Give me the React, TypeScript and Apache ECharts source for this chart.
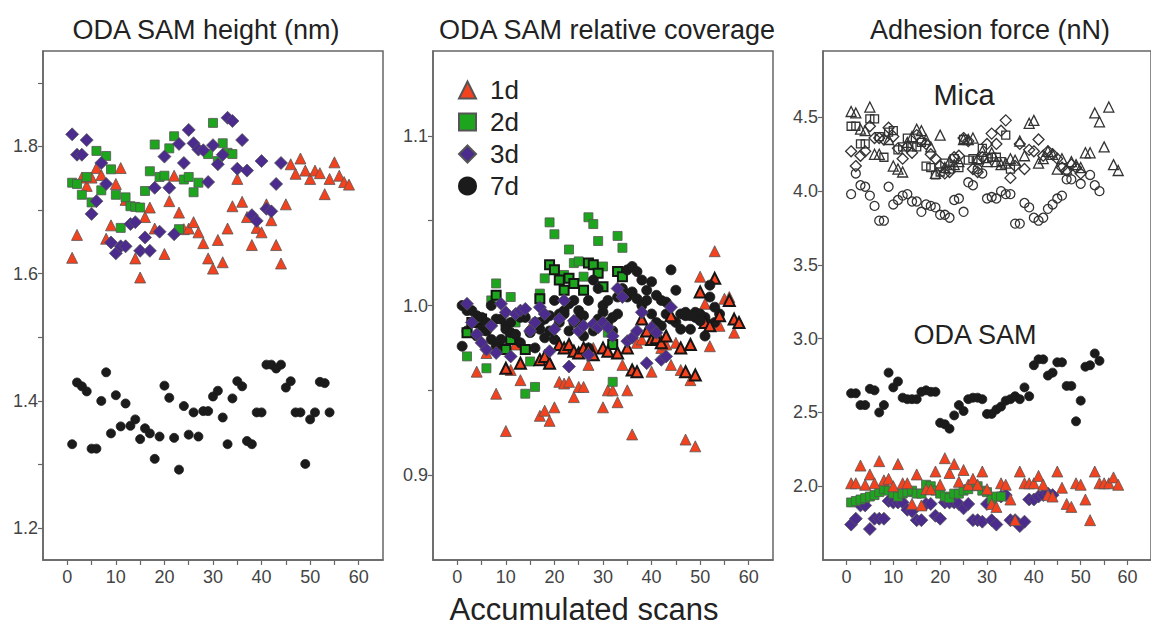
import React, { useEffect, useRef } from "react";
import * as echarts from "echarts";

// ---------- axis ticks / labels ----------
const scanTicks = [0, 5, 10, 15, 20, 25, 30, 35, 40, 45, 50, 55, 60];
const scanLabels = [0, 10, 20, 30, 40, 50, 60];
const heightTicks = [1.2, 1.3, 1.4, 1.5, 1.6, 1.7, 1.8, 1.9];
const heightLabels = [1.2, 1.4, 1.6, 1.8];
const coverageTicks = [0.9, 0.95, 1.0, 1.05, 1.1];
const coverageLabels = [0.9, 1.0, 1.1];
const forceTicks = [2.0, 2.5, 3.0, 3.5, 4.0, 4.5];
const forceLabels = [2.0, 2.5, 3.0, 3.5, 4.0, 4.5];

const titles = ["ODA SAM height (nm)", "ODA SAM relative coverage", "Adhesion force (nN)"];
const legendNames = ["1d", "2d", "3d", "7d"];

// ---------- panel 1: ODA SAM height (nm), index = scan - 1 ----------
const height1d = [1.625,1.661,1.751,1.738,1.751,1.766,1.755,1.655,1.676,1.741,1.766,1.716,null,1.624,1.594,1.689,1.704,1.671,null,1.631,1.714,1.754,1.696,1.670,1.671,1.681,1.665,1.648,1.624,1.608,1.653,1.618,1.671,1.706,1.749,1.713,1.689,1.645,1.672,1.665,1.709,1.684,1.645,1.616,1.709,1.772,1.757,1.781,1.762,1.749,1.762,1.758,1.725,1.749,1.775,1.754,1.744,1.740];
const height2d = [1.743,1.741,1.724,1.752,1.712,1.793,1.731,1.785,1.764,1.724,1.672,1.720,1.706,1.705,1.704,1.730,1.761,1.803,1.752,1.754,1.797,1.816,1.670,1.748,1.752,1.728,1.743,null,1.788,1.837,1.777,1.805,1.790,1.788];
const height3d = [1.819,1.787,1.787,1.810,1.694,1.714,1.774,1.741,1.649,1.632,1.643,1.643,1.678,1.681,1.636,1.657,1.636,1.735,1.666,1.784,1.735,1.662,1.804,1.774,1.826,1.805,1.795,1.794,1.744,1.802,1.772,1.787,1.845,1.840,1.765,1.810,1.762,1.692,1.683,1.777,1.702,1.698,1.741,1.774];
const height7d = [1.332,1.429,1.423,1.415,1.325,1.325,1.400,1.445,1.349,1.409,1.360,1.396,1.361,1.371,1.340,1.357,1.349,1.309,1.344,1.424,1.405,1.342,1.292,1.392,1.347,1.382,1.344,1.384,1.384,1.407,1.416,1.374,1.332,1.404,1.431,1.423,1.337,1.332,1.382,1.382,1.457,1.457,1.451,1.457,1.421,1.431,1.382,1.382,1.301,1.371,1.382,1.430,1.428,1.382];

// ---------- panel 2: relative coverage (two measurement sets per sample) ----------
const cov1dA = [null,null,null,0.961,null,0.972,null,0.948,null,0.926,0.962,0.977,0.956,null,0.987,null,0.935,0.938,0.932,0.940,0.955,0.954,0.955,0.946,0.952,0.952,0.965,0.975,null,0.940,0.950,0.950,0.943,0.965,0.950,0.924,0.978,0.980,null,0.961,0.985,0.975,0.977,0.965,0.978,0.962,0.921,0.956,0.917,1.017,1.001,0.976,1.032,0.988,1.004,1.005,0.984];
const cov1dB = [null,null,null,null,null,null,null,null,null,0.963,null,null,0.966,null,null,null,0.968,0.970,0.966,null,0.977,0.975,0.977,0.973,0.972,0.975,0.974,0.971,null,0.975,0.973,null,0.972,null,0.975,0.962,0.961,0.992,0.985,0.980,0.981,0.978,0.982,0.994,null,0.975,0.961,0.977,0.959,1.008,0.990,0.988,1.016,0.994,null,1.003,0.992,0.990];
const cov2dA = [null,0.970,null,null,0.985,0.963,1.003,1.013,0.975,0.974,1.005,0.990,null,0.948,0.967,0.952,1.007,1.016,1.049,1.042,1.015,1.018,1.033,1.025,1.026,1.017,1.052,1.048,1.038,1.023,0.984,0.955,1.041,1.034];
const cov2dB = [null,0.984,0.990,null,0.992,null,null,1.006,null,0.974,0.980,null,null,0.974,null,null,1.004,null,1.024,1.021,1.015,1.009,1.016,1.013,null,1.009,1.025,1.024,1.019,1.011,null,0.977,1.020,1.017];
const cov3d = [null,1.001,0.990,0.983,0.978,0.974,0.988,0.972,1.001,0.996,0.970,0.995,0.997,0.998,0.985,0.990,0.999,0.995,0.973,0.986,0.992,1.003,0.964,0.991,0.985,0.988,0.971,0.989,0.987,0.990,0.987,0.982,1.010,1.005,0.979,0.981,0.985,0.996,0.966,0.987,0.984,0.968,0.970,0.999];
const cov7dA = [1.000,0.997,0.997,0.994,0.993,0.990,1.000,0.992,0.992,0.986,0.984,0.983,0.993,0.993,0.985,0.975,0.990,0.981,0.994,1.003,0.995,0.997,1.001,1.003,0.997,0.994,1.003,1.015,1.010,1.000,1.003,0.993,1.005,1.009,1.021,1.023,1.020,1.015,1.009,1.014,1.006,1.003,1.002,1.021,1.009,0.995,0.996,0.994,0.993,0.991,0.982,1.012,0.999];
const cov7dB = [0.976,0.985,0.990,0.982,0.988,0.985,0.980,0.976,0.980,0.988,0.990,0.980,0.978,0.974,0.984,0.990,0.986,0.992,0.985,0.980,0.990,0.995,0.985,0.990,0.992,0.982,0.975,0.985,0.992,0.996,0.990,0.985,0.995,1.010,1.005,1.008,1.004,1.000,1.003,0.995,0.990,0.988,0.995,0.992,0.990,0.986,0.994,0.986,0.996,0.995,0.993,1.005,0.990,0.995];

// ---------- panel 3: adhesion force (nN) ----------
const micaTriangle = [4.54,4.53,4.42,4.41,4.57,4.25,4.25,null,4.35,4.17,4.15,4.13,4.33,4.37,4.42,4.41,4.35,4.30,4.12,4.38,4.16,4.20,4.18,4.20,4.35,4.35,4.36,4.22,4.27,4.20,4.26,4.20,4.18,4.19,4.22,4.21,4.34,4.24,4.46,4.48,4.19,4.22,4.27,4.25,4.15,4.22,4.15,4.20,4.18,4.16,4.26,4.26,4.53,4.47,4.30,4.57,4.18,4.14];
const micaSquare = [4.44,4.44,4.32,4.32,4.49,4.49,4.37,4.23,4.40,4.41,4.28,4.30,4.36,4.30,4.30,4.33,4.17,4.16,4.11,4.13,4.19,4.15,4.22,4.16,4.35,4.21,4.22,4.21,4.29,4.22,4.23,4.23,4.20,4.38,4.15];
const micaDiamond = [4.27,4.17,4.24,4.27,4.44,4.36,4.36,4.35,4.43,4.37,4.29,4.22,4.30,4.26,4.38,4.34,4.32,4.25,4.22,4.17,4.12,4.13,4.23,4.24,4.36,4.34,4.15,4.13,4.23,4.32,4.39,4.32,4.41,4.48,4.09,4.17,4.32,4.15,4.28,4.27,4.35,4.24,4.27,4.25,4.22,4.16,4.14,4.18,4.16,4.12];
const micaCircle = [3.98,4.12,4.04,4.03,3.97,3.90,3.80,3.80,4.03,3.91,3.94,3.97,3.98,3.93,3.93,3.86,3.91,3.90,3.89,3.84,3.84,3.82,3.94,3.95,3.86,4.06,4.04,4.15,4.12,3.95,3.96,3.95,4.00,3.98,3.98,3.78,3.78,3.92,3.89,3.82,3.80,3.82,3.88,3.91,3.95,3.97,4.08,4.08,null,4.05,null,4.11,4.04,4.00];
const sam1d = [2.02,2.02,2.14,2.01,2.08,2.02,2.17,2.04,2.05,2.00,2.15,2.02,2.02,1.88,2.08,1.87,1.98,1.98,2.10,2.01,2.19,2.09,2.15,2.03,2.11,2.01,2.05,2.01,2.10,1.98,1.88,1.86,2.02,2.01,1.91,1.77,2.10,2.02,2.02,2.02,2.07,2.01,1.94,1.93,2.10,1.99,1.88,1.86,2.02,2.01,1.91,1.77,2.10,2.02,2.02,2.02,2.06,2.01];
const sam2d = [1.89,1.90,1.91,1.92,1.93,1.94,1.96,1.98,1.97,1.95,1.93,1.95,1.96,1.97,1.95,1.95,2.01,2.00,1.97,1.95,1.93,1.92,1.95,1.95,1.97,1.98,2.01,2.00,1.97,1.96,1.91,1.93,1.93];
const sam3d = [1.74,1.78,1.87,1.87,1.71,1.78,1.78,1.78,1.90,1.89,1.89,1.89,1.84,1.83,1.77,1.77,1.88,1.88,1.80,1.78,1.89,1.89,1.89,1.88,1.85,1.88,1.77,1.77,1.76,1.88,1.77,1.74,1.93,1.94,1.77,1.77,1.73,1.76,1.91,1.91,1.93,1.94,1.95,1.94];
const sam7d = [2.63,2.63,2.55,2.55,2.66,2.65,2.50,2.55,2.77,2.67,2.71,2.60,2.59,2.59,2.59,2.64,2.65,2.64,2.64,2.43,2.42,2.39,2.48,2.55,2.51,2.59,2.60,2.60,2.59,2.49,2.49,2.52,2.54,2.58,2.59,2.61,2.59,2.67,2.61,2.82,2.86,2.86,2.75,2.77,2.84,2.84,2.68,2.68,2.44,2.58,2.81,2.82,2.90,2.85];

// ---------- styling ----------
const RED = "#f4421f";
const GREEN = "#1ea51e";
const PURPLE = "#4b2b8e";
const BLACK = "#1b1b1b";
const FRAME = "#666";
const FONT = "'Liberation Sans', Arial, sans-serif";

const toPairs = (ys: (number | null)[]) =>
  ys.map((y, i) => (y == null ? null : [i + 1, y])).filter((p) => p !== null) as number[][];

type Kind = "1d" | "2d" | "3d" | "7d";
const markerStyle: Record<Kind, any> = {
  "1d": { symbol: "triangle", symbolSize: 11, color: RED },
  "2d": { symbol: "rect", symbolSize: 9, color: GREEN },
  "3d": { symbol: "diamond", symbolSize: 13, color: PURPLE },
  "7d": { symbol: "circle", symbolSize: 10, color: BLACK },
};

function filled(name: string, kind: Kind, ys: (number | null)[], idx: number, heavy = false, size?: number) {
  const m = markerStyle[kind];
  return {
    type: "scatter",
    name,
    xAxisIndex: idx,
    yAxisIndex: idx,
    symbol: m.symbol,
    symbolSize: size ?? m.symbolSize,
    data: toPairs(ys),
    itemStyle: {
      color: m.color,
      borderColor: kind === "7d" ? BLACK : heavy ? "#151515" : "#555",
      borderWidth: heavy ? 2 : 0.8,
      opacity: 1,
    },
    emphasis: { disabled: true },
  };
}

function open(name: string, symbol: string, ys: (number | null)[], size: number) {
  return {
    type: "scatter",
    name,
    xAxisIndex: 2,
    yAxisIndex: 2,
    symbol,
    symbolSize: size,
    data: toPairs(ys),
    itemStyle: { color: "rgba(255,255,255,0)", borderColor: "#333", borderWidth: 1.3, opacity: 1 },
    emphasis: { disabled: true },
  };
}

const gridLefts = [43, 433, 823];

function xAxis(i: number) {
  return {
    type: "value",
    gridIndex: i,
    min: -5,
    max: 65,
    axisLine: { show: true, onZero: false, lineStyle: { color: FRAME, width: 1.5 } },
    axisTick: { show: true, length: 5, lineStyle: { color: FRAME, width: 1.2 }, customValues: scanTicks },
    axisLabel: { color: "#444", fontSize: 18, fontFamily: FONT, margin: 8, customValues: scanLabels },
    splitLine: { show: false },
  };
}

function yAxis(i: number, min: number, max: number, ticks: number[], labels: number[], dec: number) {
  return {
    type: "value",
    gridIndex: i,
    min,
    max,
    axisLine: { show: true, onZero: false, lineStyle: { color: FRAME, width: 1.5 } },
    axisTick: { show: true, length: 5, lineStyle: { color: FRAME, width: 1.2 }, customValues: ticks },
    axisLabel: {
      color: "#444",
      fontSize: 18,
      fontFamily: FONT,
      margin: 5,
      customValues: labels,
      formatter: (v: number) => v.toFixed(dec),
    },
    splitLine: { show: false },
  };
}

export default function App() {
  const ref = useRef<HTMLDivElement>(null);

  useEffect(() => {
    if (!ref.current) return;
    const chart = echarts.init(ref.current, null, { renderer: "svg" });
    const titleCenters = [201, 602, 985];
    const option: any = {
      animation: false,
      backgroundColor: "#fff",
      title: [
        ...titles.map((t, i) => ({
          text: t,
          left: titleCenters[i],
          top: 11,
          textAlign: "center",
          textStyle: { fontSize: 27, fontWeight: "normal", color: "#222", fontFamily: FONT },
        })),
        {
          text: "Accumulated scans",
          left: 584,
          top: 592,
          padding: 0,
          textAlign: "center",
          textStyle: { fontSize: 31, lineHeight: 34, fontWeight: "normal", color: "#222", fontFamily: FONT },
        },
        {
          text: "Mica",
          left: 959,
          top: 75,
          textAlign: "center",
          textStyle: { fontSize: 29, fontWeight: "normal", color: "#222", fontFamily: FONT },
        },
        {
          text: "ODA SAM",
          left: 970,
          top: 316,
          textAlign: "center",
          textStyle: { fontSize: 27, fontWeight: "normal", color: "#222", fontFamily: FONT },
        },
      ],
      legend: {
        data: legendNames,
        orient: "vertical",
        left: 453,
        top: 72,
        itemWidth: 17,
        itemHeight: 17,
        itemGap: 6,
        selectedMode: false,
        textStyle: { fontSize: 26, color: "#222", fontFamily: FONT, padding: [0, 0, 0, 9] },
      },
      grid: gridLefts.map((l) => ({
        left: l,
        top: 51,
        width: 340,
        height: 509,
        show: true,
        borderColor: FRAME,
        borderWidth: 1.5,
        backgroundColor: "transparent",
      })),
      xAxis: [xAxis(0), xAxis(1), xAxis(2)],
      yAxis: [
        yAxis(0, 1.15, 1.95, heightTicks, heightLabels, 1),
        yAxis(1, 0.85, 1.15, coverageTicks, coverageLabels, 1),
        yAxis(2, 1.5, 4.95, forceTicks, forceLabels, 1),
      ],
      series: [
        // panel 1
        filled("h1d", "1d", height1d, 0),
        filled("h2d", "2d", height2d, 0),
        filled("h3d", "3d", height3d, 0),
        filled("h7d", "7d", height7d, 0, false, 9),
        // panel 2
        filled("1d", "1d", cov1dA, 1),
        filled("2d", "2d", cov2dA, 1),
        filled("7d", "7d", cov7dB, 1, false, 10),
        filled("2d", "2d", cov2dB, 1, true),
        filled("1d", "1d", cov1dB, 1, true),
        filled("7d", "7d", cov7dA, 1, false, 10),
        filled("3d", "3d", cov3d, 1),
        // panel 3 mica (open symbols)
        open("mTri", "triangle", micaTriangle, 10),
        open("mSq", "rect", micaSquare, 8),
        open("mDia", "diamond", micaDiamond, 11),
        open("mCir", "circle", micaCircle, 9),
        // panel 3 ODA SAM
        filled("a3d", "3d", sam3d, 2),
        filled("a2d", "2d", sam2d, 2),
        filled("a1d", "1d", sam1d, 2),
        filled("a7d", "7d", sam7d, 2, false, 9),
      ],
    };
    chart.setOption(option);
    return () => chart.dispose();
  }, []);

  return (
    <div
      ref={ref}
      style={{ position: "fixed", left: 0, top: 0, width: 1151, height: 628, background: "#fff" }}
    />
  );
}
